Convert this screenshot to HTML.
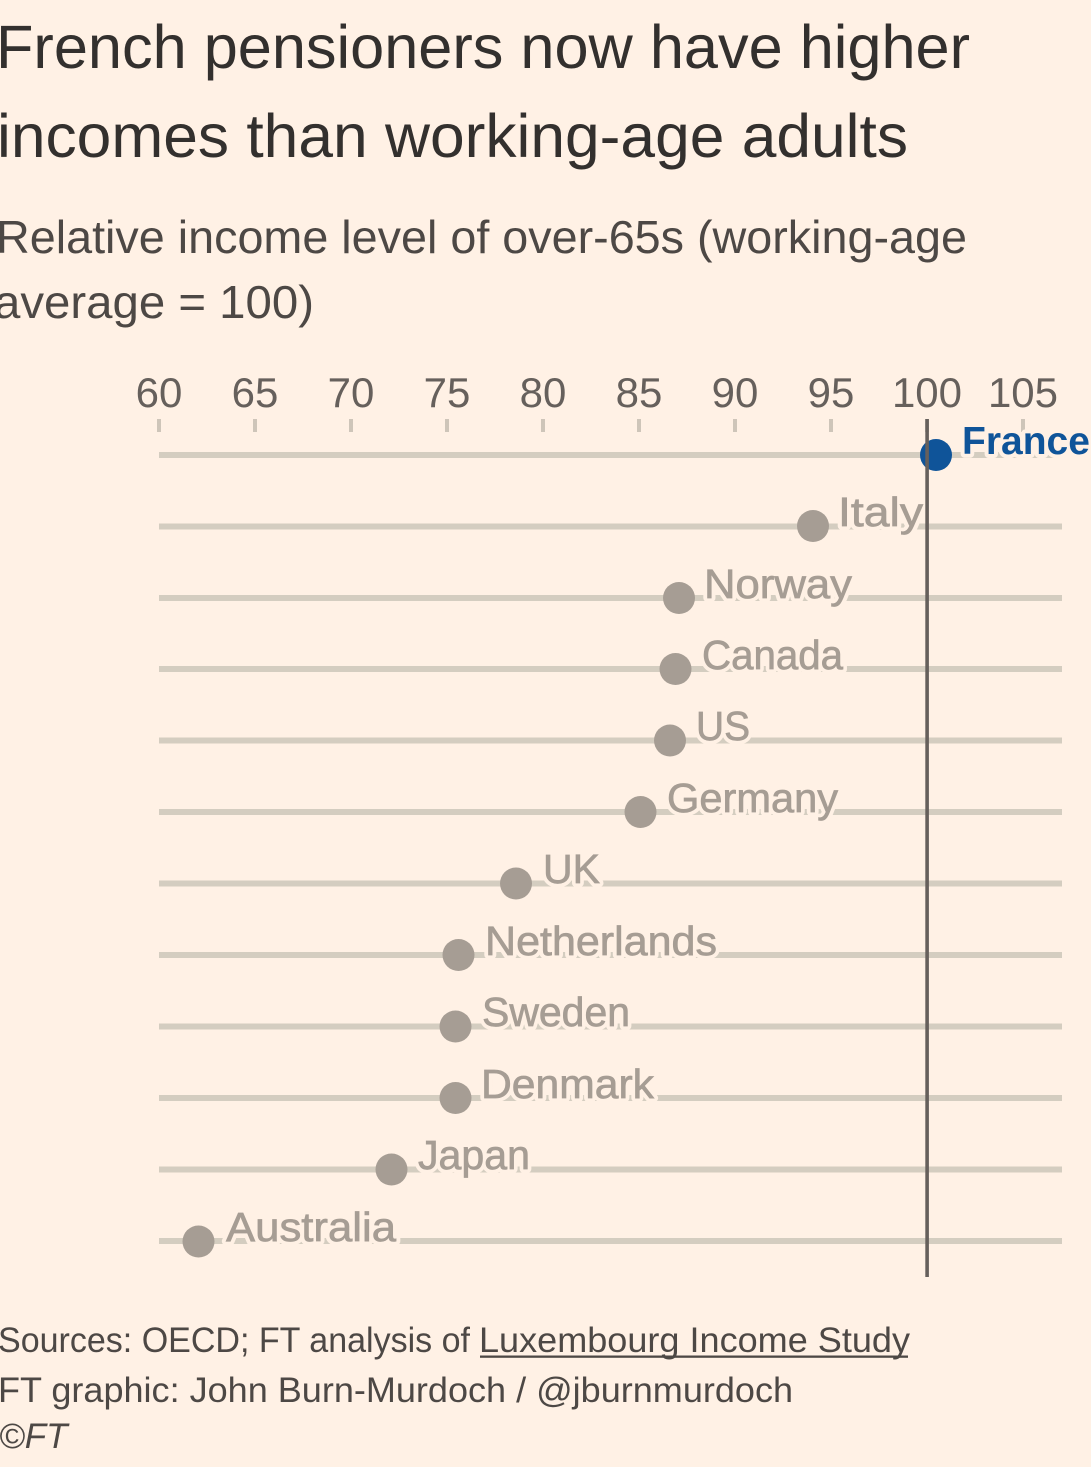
<!DOCTYPE html>
<html>
<head>
<meta charset="utf-8">
<style>
  html, body { margin:0; padding:0; background:#fff1e5; }
  body { width:1091px; height:1467px; overflow:hidden; }
  svg { display:block; }
  text { font-family: "Liberation Sans", "DejaVu Sans", sans-serif; }
</style>
</head>
<body>
<svg width="1091" height="1467" viewBox="0 0 1091 1467" xmlns="http://www.w3.org/2000/svg">
  <rect x="0" y="0" width="1091" height="1467" fill="#fff1e5"/>

  <!-- Title -->
  <text x="-4" y="68" font-size="61" fill="#33302e" textLength="974" lengthAdjust="spacingAndGlyphs">French pensioners now have higher</text>
  <text x="-3" y="157" font-size="61" fill="#33302e" textLength="911" lengthAdjust="spacingAndGlyphs">incomes than working-age adults</text>

  <!-- Subtitle -->
  <text x="-4" y="253" font-size="46" fill="#4d4845" textLength="971" lengthAdjust="spacingAndGlyphs">Relative income level of over-65s (working-age</text>
  <text x="-6" y="318" font-size="46" fill="#4d4845" textLength="320" lengthAdjust="spacingAndGlyphs">average = 100)</text>

  <!-- Tick labels -->
  <g font-size="42" fill="#66605c" text-anchor="middle">
    <text x="159" y="407">60</text>
    <text x="255" y="407">65</text>
    <text x="351" y="407">70</text>
    <text x="447" y="407">75</text>
    <text x="543" y="407">80</text>
    <text x="639" y="407">85</text>
    <text x="735" y="407">90</text>
    <text x="831" y="407">95</text>
    <text x="927" y="407">100</text>
    <text x="1023" y="407">105</text>
  </g>

  <!-- Ticks -->
  <g fill="#cec5b9">
    <rect x="157" y="419" width="4" height="13"/>
    <rect x="253" y="419" width="4" height="13"/>
    <rect x="349" y="419" width="4" height="13"/>
    <rect x="445" y="419" width="4" height="13"/>
    <rect x="541" y="419" width="4" height="13"/>
    <rect x="637" y="419" width="4" height="13"/>
    <rect x="733" y="419" width="4" height="13"/>
    <rect x="829" y="419" width="4" height="13"/>
    <rect x="925" y="419" width="4" height="13"/>
    <rect x="1021" y="419" width="4" height="13"/>
  </g>

  <!-- Grid lines -->
  <g stroke="#d4cdc0" stroke-width="6">
    <line x1="159" y1="455" x2="1062" y2="455"/>
    <line x1="159" y1="526.5" x2="1062" y2="526.5"/>
    <line x1="159" y1="598" x2="1062" y2="598"/>
    <line x1="159" y1="669" x2="1062" y2="669"/>
    <line x1="159" y1="740.5" x2="1062" y2="740.5"/>
    <line x1="159" y1="812" x2="1062" y2="812"/>
    <line x1="159" y1="883.5" x2="1062" y2="883.5"/>
    <line x1="159" y1="955" x2="1062" y2="955"/>
    <line x1="159" y1="1026.5" x2="1062" y2="1026.5"/>
    <line x1="159" y1="1098" x2="1062" y2="1098"/>
    <line x1="159" y1="1169.5" x2="1062" y2="1169.5"/>
    <line x1="159" y1="1241" x2="1062" y2="1241"/>
  </g>

  <!-- Label halos -->
  <g font-size="41" fill="#fff1e5" stroke="#fff1e5" stroke-width="8" stroke-linejoin="round">
    <text x="838" y="526" textLength="85" lengthAdjust="spacingAndGlyphs">Italy</text>
    <text x="704" y="598" textLength="148" lengthAdjust="spacingAndGlyphs">Norway</text>
    <text x="702" y="669" textLength="141" lengthAdjust="spacingAndGlyphs">Canada</text>
    <text x="696" y="740" textLength="54" lengthAdjust="spacingAndGlyphs">US</text>
    <text x="667" y="812" textLength="171" lengthAdjust="spacingAndGlyphs">Germany</text>
    <text x="543" y="883" textLength="57" lengthAdjust="spacingAndGlyphs">UK</text>
    <text x="485" y="955" textLength="232" lengthAdjust="spacingAndGlyphs">Netherlands</text>
    <text x="482" y="1026" textLength="148" lengthAdjust="spacingAndGlyphs">Sweden</text>
    <text x="481" y="1098" textLength="173" lengthAdjust="spacingAndGlyphs">Denmark</text>
    <text x="418" y="1169" textLength="112" lengthAdjust="spacingAndGlyphs">Japan</text>
    <text x="226" y="1241" textLength="170" lengthAdjust="spacingAndGlyphs">Australia</text>
  </g>
  <text x="962" y="454" font-size="39" font-weight="bold" fill="#fff1e5" stroke="#fff1e5" stroke-width="8" stroke-linejoin="round">France</text>

  <!-- Labels -->
  <g font-size="41" fill="#a69d94" stroke="#a69d94" stroke-width="0.7">
    <text x="838" y="526" textLength="85" lengthAdjust="spacingAndGlyphs">Italy</text>
    <text x="704" y="598" textLength="148" lengthAdjust="spacingAndGlyphs">Norway</text>
    <text x="702" y="669" textLength="141" lengthAdjust="spacingAndGlyphs">Canada</text>
    <text x="696" y="740" textLength="54" lengthAdjust="spacingAndGlyphs">US</text>
    <text x="667" y="812" textLength="171" lengthAdjust="spacingAndGlyphs">Germany</text>
    <text x="543" y="883" textLength="57" lengthAdjust="spacingAndGlyphs">UK</text>
    <text x="485" y="955" textLength="232" lengthAdjust="spacingAndGlyphs">Netherlands</text>
    <text x="482" y="1026" textLength="148" lengthAdjust="spacingAndGlyphs">Sweden</text>
    <text x="481" y="1098" textLength="173" lengthAdjust="spacingAndGlyphs">Denmark</text>
    <text x="418" y="1169" textLength="112" lengthAdjust="spacingAndGlyphs">Japan</text>
    <text x="226" y="1241" textLength="170" lengthAdjust="spacingAndGlyphs">Australia</text>
  </g>
  <text x="962" y="454" font-size="39" font-weight="bold" fill="#0f5499">France</text>

  <!-- Dots -->
  <g fill="#a69d94">
    <circle cx="813" cy="526" r="16"/>
    <circle cx="679" cy="598" r="16"/>
    <circle cx="675.5" cy="669" r="16"/>
    <circle cx="670" cy="740.5" r="16"/>
    <circle cx="640.5" cy="812" r="16"/>
    <circle cx="516" cy="883.5" r="16"/>
    <circle cx="458.5" cy="955" r="16"/>
    <circle cx="455.5" cy="1026.5" r="16"/>
    <circle cx="455.5" cy="1098" r="16"/>
    <circle cx="391.5" cy="1169.5" r="16"/>
    <circle cx="198.5" cy="1241.5" r="16"/>
  </g>
  <circle cx="936" cy="455" r="16" fill="#0f5499"/>

  <!-- 100 reference line -->
  <rect x="925.3" y="419" width="3.6" height="858" fill="#66605c"/>

  <!-- Footer -->
  <g font-size="35" fill="#4d4845">
    <text x="-2" y="1352" textLength="472" lengthAdjust="spacingAndGlyphs">Sources: OECD; FT analysis of</text>
    <text x="479" y="1352" textLength="431" lengthAdjust="spacingAndGlyphs">Luxembourg Income Study</text>
    <text x="-2" y="1402" textLength="795" lengthAdjust="spacingAndGlyphs">FT graphic: John Burn-Murdoch / @jburnmurdoch</text>
    <text x="-1" y="1448" font-style="italic">©FT</text>
  </g>
  <rect x="480" y="1355.5" width="428" height="2.3" fill="#4d4845"/>
</svg>
</body>
</html>
